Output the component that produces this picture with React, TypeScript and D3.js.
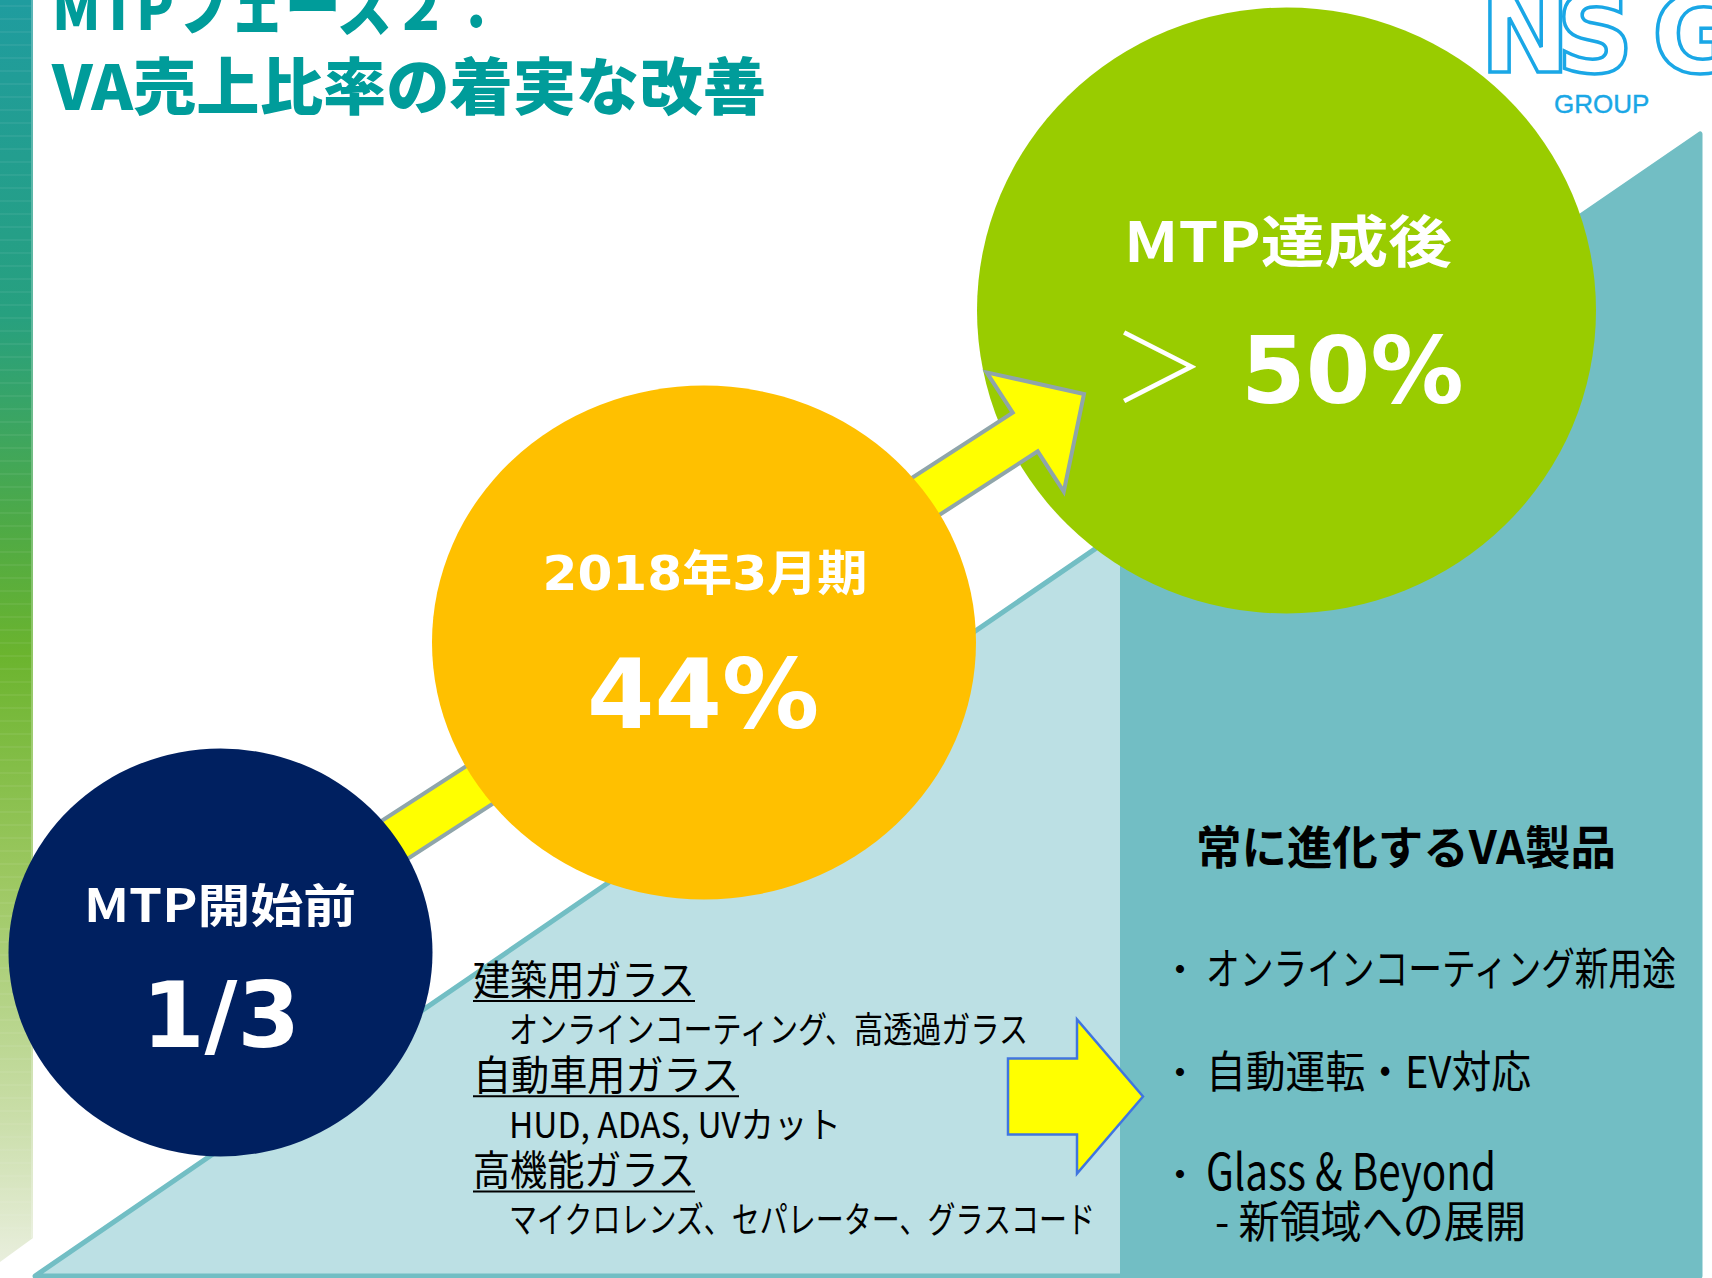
import * as d3 from "d3";

// slide text
const titleLines = ["MTPフェーズ２：", "VA売上比率の着実な改善"];
const stageTitles = ["MTP開始前", "2018年3月期", "MTP達成後"];
const stageValues = ["1/3", "44%", "50%"];
const segmentNames = ["建築用ガラス", "自動車用ガラス", "高機能ガラス"];
const segmentProducts = [
  "オンラインコーティング、高透過ガラス",
  "HUD, ADAS, UVカット",
  "マイクロレンズ、セパレーター、グラスコード",
];
const vaHeader = "常に進化するVA製品";
const vaBullets = ["オンラインコーティング新用途", "自動運転・EV対応", "Glass & Beyond"];
const vaSubline = "- 新領域への展開";
const logoLetters = ["N", "S", "G"];

const width = 1712;
const height = 1278;

// layout
const stageCircles = [
  { cx: 220.5, cy: 952.5, rx: 212, ry: 204, fill: "#002060" },
  { cx: 704, cy: 642.5, rx: 272, ry: 257, fill: "#FFC000" },
  { cx: 1286.5, cy: 310.5, rx: 309.5, ry: 303, fill: "#99CC00" },
];
const arrowTip: [number, number] = [1084, 394];
const triLeft: [number, number] = [35, 1276];
const triTop: [number, number] = [1700, 134];
const panelX = 1120;

const jp = "'Noto Sans CJK JP', 'Noto Sans', sans-serif";
const num = "'DejaVu Sans', 'Noto Sans CJK JP', sans-serif";

export default function App() {
  const line = d3.line();

  // hypotenuse of the background triangle
  const hyp = d3.scaleLinear().domain([triLeft[0], triTop[0]]).range([triLeft[1], triTop[1]]);

  // big arrow along navy -> tip
  const [ax, ay] = [stageCircles[0].cx, stageCircles[0].cy];
  const angle = (Math.atan2(arrowTip[1] - ay, arrowTip[0] - ax) * 180) / Math.PI;
  const L = Math.hypot(arrowTip[0] - ax, arrowTip[1] - ay);
  const hw = 23, hh = 71, hl = 70;
  const bigArrow = line([
    [0, -hw], [L - hl, -hw], [L - hl, -hh], [L, 0], [L - hl, hh], [L - hl, hw], [0, hw],
  ]) + "Z";

  // small arrow
  const sa = { x0: 1008, xh: 1077, xt: 1143, cy: 1096.5, sh: 38, hh: 77 };
  const smallArrow = line([
    [sa.x0, sa.cy - sa.sh], [sa.xh, sa.cy - sa.sh], [sa.xh, sa.cy - sa.hh], [sa.xt, sa.cy],
    [sa.xh, sa.cy + sa.hh], [sa.xh, sa.cy + sa.sh], [sa.x0, sa.cy + sa.sh],
  ]) + "Z";

  // left list rows
  const rowY = d3.scaleLinear().domain([0, 5]).range([995, 1233]);
  const nameLen = [222, 266, 222];
  const prodLen = [519, 332, 586];

  // right bullets
  const bulletY = [985, 1088, 1190];
  const bulletLen = [470, 325, 290];

  const logoX = [1480, 1556, 1652];
  const streaks = d3.range(6, 1240, 13);

  return (
    <div style={{ position: "absolute", left: 0, top: 0 }}>
      <svg width={width} height={height} style={{ display: "block", background: "#fff" }}>
        <defs>
          <linearGradient id="sidebar" x1="0" y1="0" x2="0" y2="1260" gradientUnits="userSpaceOnUse">
            <stop offset="0" stopColor="#1F9C9F" />
            <stop offset="0.25" stopColor="#27A07F" />
            <stop offset="0.42" stopColor="#4FAA45" />
            <stop offset="0.52" stopColor="#6BB42E" />
            <stop offset="0.7" stopColor="#9DC862" />
            <stop offset="0.88" stopColor="#C8DDA6" />
            <stop offset="1" stopColor="#E8EEDC" />
          </linearGradient>
        </defs>

        {/* left gradient bar */}
        <path d={line([[0, 0], [33, 0], [33, 1238], [0, 1262]]) + "Z"} fill="url(#sidebar)" />
        {streaks.map((y) => (
          <line key={y} x1={0} x2={31} y1={y} y2={y} stroke="#fff" strokeOpacity={0.12} strokeWidth={1} />
        ))}
        <line x1={32} x2={32} y1={0} y2={1238} stroke="#fff" strokeOpacity={0.35} strokeWidth={1.5} />

        {/* background triangle */}
        <path
          d={line([triLeft, triTop, [triTop[0], triLeft[1]]]) + "Z"}
          fill="#BCE0E4"
          stroke="#72BEC4"
          strokeWidth={5}
          strokeLinejoin="round"
        />
        <path
          d={line([[panelX, hyp(panelX)], triTop, [triTop[0], triLeft[1] + 2.5], [panelX, triLeft[1] + 2.5]]) + "Z"}
          fill="#72BEC4"
        />

        {/* green circle sits under the arrow */}
        <ellipse {...stageCircles[2]} />
        <path
          d={bigArrow}
          transform={`translate(${ax},${ay}) rotate(${angle})`}
          fill="#FFFF00"
          stroke="#8FA5AA"
          strokeWidth={4}
          strokeLinejoin="miter"
        />
        <ellipse {...stageCircles[1]} />
        <ellipse {...stageCircles[0]} />

        {/* stage labels */}
        <text x={220} y={922} textAnchor="middle" fontFamily={jp} fontWeight={700} fontSize={46}
          fill="#fff" textLength={272} lengthAdjust="spacingAndGlyphs">{stageTitles[0]}</text>
        <text x={221} y={1047} textAnchor="middle" fontFamily={num} fontWeight={700} fontSize={90}
          fill="#fff">{stageValues[0]}</text>

        <text x={705} y={590} textAnchor="middle" fontFamily={num} fontWeight={700} fontSize={48}
          fill="#fff" textLength={325} lengthAdjust="spacingAndGlyphs">{stageTitles[1]}</text>
        <text x={703} y={728} textAnchor="middle" fontFamily={num} fontWeight={700} fontSize={97}
          fill="#fff">{stageValues[1]}</text>

        <text x={1124} y={262} fontFamily={jp} fontWeight={700} fontSize={56}
          fill="#fff" textLength={328} lengthAdjust="spacingAndGlyphs">{stageTitles[2]}</text>
        <text x={1112} y={402} fontFamily={jp} fontWeight={300} fontSize={94} fill="#fff">＞</text>
        <text x={1241} y={403} fontFamily={num} fontWeight={700} fontSize={93} fill="#fff">{stageValues[2]}</text>

        {/* left segment list */}
        {segmentNames.map((name, i) => (
          <g key={name}>
            <text x={473} y={rowY(i * 2)} fontFamily={jp} fontSize={41} fill="#000"
              textLength={nameLen[i]} lengthAdjust="spacingAndGlyphs">{name}</text>
            <line x1={473} x2={473 + nameLen[i]} y1={rowY(i * 2) + 6} y2={rowY(i * 2) + 6} stroke="#000" strokeWidth={2} />
            <text x={509} y={rowY(i * 2 + 1)} fontFamily={jp} fontSize={36} fill="#000"
              textLength={prodLen[i]} lengthAdjust="spacingAndGlyphs">{segmentProducts[i]}</text>
          </g>
        ))}

        {/* small arrow */}
        <path d={smallArrow} fill="#FFFF00" stroke="#4075E0" strokeWidth={2.5} />

        {/* right panel */}
        <text x={1196} y={864} fontFamily={jp} fontWeight={700} fontSize={46} fill="#000"
          textLength={420} lengthAdjust="spacingAndGlyphs">{vaHeader}</text>
        {vaBullets.map((b, i) => (
          <g key={b}>
            <text x={1180} y={bulletY[i] - 2} textAnchor="middle" fontFamily={jp} fontSize={38} fill="#000">・</text>
            <text x={1206} y={bulletY[i]} fontFamily={jp} fontSize={i === 2 ? 50 : 44} fill="#000"
              textLength={bulletLen[i]} lengthAdjust="spacingAndGlyphs">{b}</text>
          </g>
        ))}
        <text x={1215} y={1238} fontFamily={jp} fontSize={44} fill="#000"
          textLength={311} lengthAdjust="spacingAndGlyphs">{vaSubline}</text>

        {/* title */}
        <text x={52} y={30} fontFamily={jp} fontWeight={900} fontSize={62} fill="#009C9A"
          textLength={452} lengthAdjust="spacingAndGlyphs">{titleLines[0]}</text>
        <text x={52} y={110} fontFamily={jp} fontWeight={900} fontSize={62} fill="#009C9A"
          textLength={714} lengthAdjust="spacingAndGlyphs">{titleLines[1]}</text>

        {/* logo */}
        <g fontFamily="'DejaVu Sans', sans-serif" fontWeight={700} fontSize={108}
          fill="#fff" stroke="#1AA7E6" strokeWidth={3.5}>
          {logoLetters.map((c, i) => (
            <text key={c} x={logoX[i]} y={72}>{c}</text>
          ))}
        </g>
        <text x={1554} y={113} fontFamily="'Liberation Sans', Arial, sans-serif" fontSize={26}
          fill="#1AA7E6" stroke="#1AA7E6" strokeWidth={0.4}>GROUP</text>
      </svg>
    </div>
  );
}
